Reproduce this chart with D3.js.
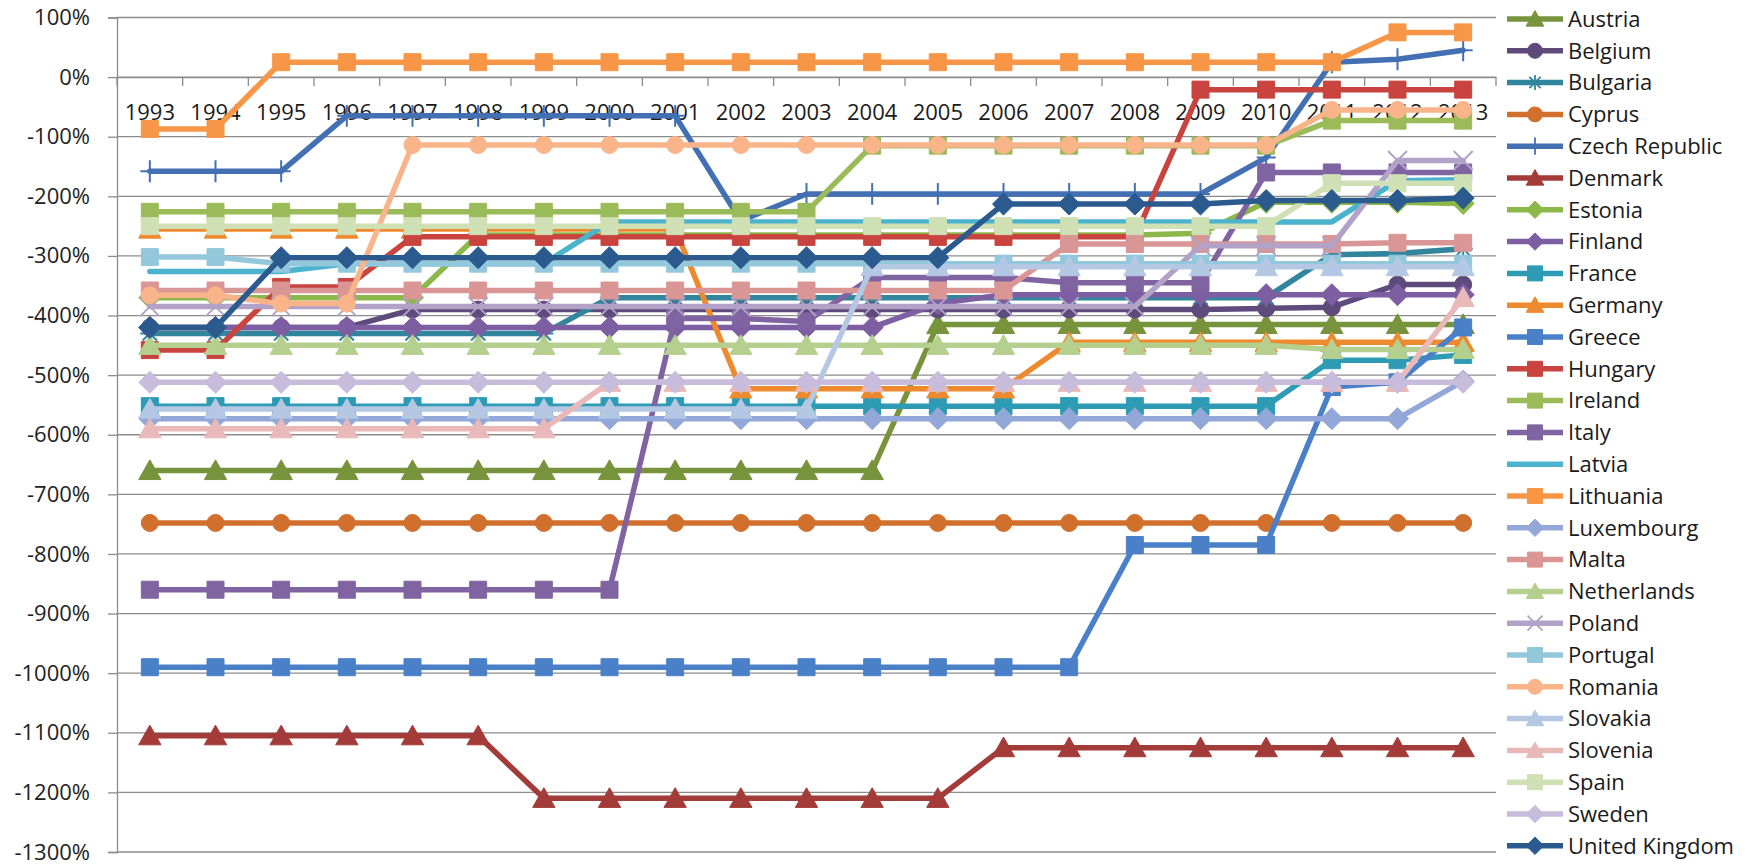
<!DOCTYPE html>
<html><head><meta charset="utf-8">
<script src="https://cdn.jsdelivr.net/npm/d3@7"></script>
<style>body{margin:0;background:#fff;} svg{display:block;font-family:"Open Sans",sans-serif;}</style>
</head><body><svg id="c" width="1753" height="867"></svg>
<script>
const years = [1993,1994,1995,1996,1997,1998,1999,2000,2001,2002,2003,2004,2005,2006,2007,2008,2009,2010,2011,2012,2013];
const countries = ["Austria","Belgium","Bulgaria","Cyprus","Czech Republic","Denmark","Estonia","Finland","France","Germany","Greece","Hungary","Ireland","Italy","Latvia","Lithuania","Luxembourg","Malta","Netherlands","Poland","Portugal","Romania","Slovakia","Slovenia","Spain","Sweden","United Kingdom"];
const yTicks = [100,0,-100,-200,-300,-400,-500,-600,-700,-800,-900,-1000,-1100,-1200,-1300];

const austria    = [-660,-660,-660,-660,-660,-660,-660,-660,-660,-660,-660,-660,-415,-415,-415,-415,-415,-415,-415,-415,-415];
const belgium    = [-420,-420,-420,-420,-390,-390,-390,-390,-390,-390,-390,-390,-390,-390,-390,-390,-390,-388,-386,-348,-348];
const bulgaria   = [-430,-430,-430,-430,-430,-430,-430,-370,-370,-370,-370,-370,-370,-370,-370,-370,-370,-370,-298,-296,-288];
const cyprus     = [-748,-748,-748,-748,-748,-748,-748,-748,-748,-748,-748,-748,-748,-748,-748,-748,-748,-748,-748,-748,-748];
const czech      = [-158,-158,-158,-65,-65,-65,-65,-65,-65,-241,-196,-196,-196,-196,-196,-196,-196,-135,25,30,45];
const denmark    = [-1105,-1105,-1105,-1105,-1105,-1105,-1210,-1210,-1210,-1210,-1210,-1210,-1210,-1125,-1125,-1125,-1125,-1125,-1125,-1125,-1125];
const estonia    = [-370,-370,-370,-370,-370,-265,-265,-265,-265,-265,-265,-265,-265,-265,-265,-265,-262,-210,-210,-210,-212];
const finland    = [-420,-420,-420,-420,-420,-420,-420,-420,-420,-420,-420,-420,-380,-365,-365,-365,-365,-365,-365,-365,-365];
const france     = [-552,-552,-552,-552,-552,-552,-552,-552,-552,-552,-552,-552,-552,-552,-552,-552,-552,-552,-475,-475,-466];
const germany    = [-255,-255,-255,-255,-255,-255,-255,-255,-255,-523,-523,-523,-523,-523,-445,-445,-445,-445,-445,-445,-445];
const greece     = [-990,-990,-990,-990,-990,-990,-990,-990,-990,-990,-990,-990,-990,-990,-990,-785,-785,-785,-520,-512,-420];
const hungary    = [-458,-458,-352,-352,-268,-268,-268,-268,-268,-268,-268,-268,-268,-268,-268,-268,-21,-21,-21,-21,-21];
const ireland    = [-226,-226,-226,-226,-226,-226,-226,-226,-226,-226,-226,-115,-115,-115,-115,-115,-115,-115,-73,-73,-73];
const italy      = [-860,-860,-860,-860,-860,-860,-860,-860,-405,-405,-410,-336,-336,-336,-345,-345,-345,-160,-160,-160,-160];
const latvia     = [-326,-326,-326,-313,-313,-313,-313,-243,-243,-243,-243,-243,-243,-243,-243,-243,-243,-243,-243,-174,-172];
const lithuania  = [-87,-87,25,25,25,25,25,25,25,25,25,25,25,25,25,25,25,25,25,75,75];
const luxembourg = [-573,-573,-573,-573,-573,-573,-573,-573,-573,-573,-573,-573,-573,-573,-573,-573,-573,-573,-573,-573,-510];
const malta      = [-358,-358,-358,-358,-358,-358,-358,-358,-358,-358,-358,-358,-358,-358,-280,-280,-280,-280,-280,-278,-278];
const netherlands= [-450,-450,-450,-450,-450,-450,-450,-450,-450,-450,-450,-450,-450,-450,-450,-450,-450,-450,-457,-457,-457];
const poland     = [-385,-385,-385,-385,-385,-385,-385,-385,-385,-385,-385,-385,-385,-385,-385,-385,-283,-283,-283,-140,-140];
const portugal   = [-302,-302,-313,-313,-313,-313,-313,-313,-313,-313,-313,-313,-313,-313,-313,-313,-313,-313,-313,-313,-313];
const romania    = [-366,-366,-380,-380,-114,-114,-114,-114,-114,-114,-114,-114,-114,-114,-114,-114,-114,-114,-55,-55,-55];
const slovakia   = [-557,-557,-557,-557,-557,-557,-557,-557,-557,-557,-557,-318,-318,-318,-318,-318,-318,-318,-318,-318,-318];
const slovenia   = [-590,-590,-590,-590,-590,-590,-590,-512,-512,-512,-512,-512,-512,-512,-512,-512,-512,-512,-512,-512,-370];
const spain      = [-250,-250,-250,-250,-250,-250,-250,-250,-250,-250,-250,-250,-250,-250,-250,-250,-250,-250,-178,-178,-178];
const sweden     = [-512,-512,-512,-512,-512,-512,-512,-512,-512,-512,-512,-512,-512,-512,-512,-512,-512,-512,-512,-512,-512];
const uk         = [-420,-420,-303,-303,-303,-303,-303,-303,-303,-303,-303,-303,-303,-213,-213,-213,-213,-207,-207,-207,-203];

const seriesValues = [austria,belgium,bulgaria,cyprus,czech,denmark,estonia,finland,france,germany,greece,hungary,ireland,italy,latvia,lithuania,luxembourg,malta,netherlands,poland,portugal,romania,slovakia,slovenia,spain,sweden,uk];

const colors = ["#77933C","#5F4A7C","#31859C","#D1702C","#4370B3","#A33C39","#8CB84A","#7D5EA3","#2E9BB5","#EE8A2E","#4A80C8","#C9433F","#9BBB59","#8064A2","#4BB3CB","#F79646","#93A8D8","#D99694","#B5D08E","#B3A2C7","#93C8DC","#FAB48A","#B4C8E4","#E8B9B8","#CFE0B5","#C7BCDC","#2A5A8E"];
const markers = ["triangle","circle","star","circle","plus","triangle","diamond","diamond","square","triangle","square","square","square","square","none","square","diamond","square","triangle","x","square","circle","triangle","triangle","square","diamond","diamond"];

const svg = d3.select("#c");
const x = d3.scaleBand().domain(years).range([117, 1496]).paddingInner(0).paddingOuter(0);
const y = d3.scaleLinear().domain([-1300, 100]).range([852, 17.5]);
const cx = d => x(d) + x.bandwidth() / 2;
const gridColor = "#8c8c8c";
const plotRight = x(years[years.length - 1]) + x.bandwidth();

// gridlines
svg.append("g").selectAll("line").data(yTicks).join("line")
  .attr("x1", 117).attr("x2", plotRight)
  .attr("y1", d => y(d)).attr("y2", d => y(d))
  .attr("stroke", gridColor).attr("stroke-width", 1.3);

// y axis
const yAxis = svg.append("g").attr("transform", "translate(117,0)")
  .call(d3.axisLeft(y).tickValues(yTicks).tickSize(9).tickPadding(18).tickFormat(d => d + "%"));
yAxis.selectAll("path.domain").attr("stroke", gridColor).attr("stroke-width", 1.3);
yAxis.selectAll(".tick line").attr("stroke", gridColor).attr("stroke-width", 1.3);
yAxis.selectAll("text").attr("font-size", 22).attr("fill", "#222").attr("font-family", "Open Sans, sans-serif");

// x axis at 0%
const xAxis = svg.append("g").attr("transform", `translate(0,${y(0)})`)
  .call(d3.axisBottom(x).tickSize(0).tickPadding(27));
xAxis.select("path.domain").attr("stroke", gridColor).attr("stroke-width", 1.3);
xAxis.selectAll("text").attr("font-size", 22).attr("fill", "#1a1a1a").attr("font-family", "Open Sans, sans-serif");
const bounds = years.map(d => x(d)).concat([plotRight]);
svg.append("g").selectAll("line").data(bounds).join("line")
  .attr("x1", d => d).attr("x2", d => d)
  .attr("y1", y(0)).attr("y2", y(0) + 9)
  .attr("stroke", gridColor).attr("stroke-width", 1.3);

function markerPath(type, s) {
  const h = s / 2;
  switch (type) {
    case "square": return `M${-h},${-h}H${h}V${h}H${-h}Z`;
    case "diamond": { const r = s * 0.58; return `M0,${-r}L${r},0L0,${r}L${-r},0Z`; }
    case "triangle": { const r = s * 0.56; return `M0,${-r}L${r * 1.05},${r * 0.85}L${-r * 1.05},${r * 0.85}Z`; }
    case "circle": return `M${h},0A${h},${h} 0 1 1 ${-h},0A${h},${h} 0 1 1 ${h},0Z`;
    case "plus": return `M${-h},0H${h}M0,${-h * 1.15}V${h * 1.15}`;
    case "x": return `M${-h},${-h}L${h},${h}M${-h},${h}L${h},${-h}`;
    case "star": return `M${-h},0H${h}M0,${-h}V${h}M${-h*0.75},${-h*0.75}L${h*0.75},${h*0.75}M${-h*0.75},${h*0.75}L${h*0.75},${-h*0.75}`;
    default: return "";
  }
}
const stroked = t => t === "plus" || t === "x" || t === "star";

const line = d3.line().x(d => cx(d.year)).y(d => y(d.value));

seriesValues.forEach((vals, i) => {
  const pts = years.map((yr, j) => ({ year: yr, value: vals[j] }));
  const g = svg.append("g");
  g.append("path").datum(pts).attr("d", line)
    .attr("fill", "none").attr("stroke", colors[i]).attr("stroke-width", 5.5)
    .attr("stroke-linejoin", "round").attr("stroke-linecap", "round");
  const m = markers[i];
  if (m !== "none") {
    const size = m === "square" ? 17 : m === "circle" ? 17 : 19;
    g.selectAll("path.mk").data(pts).join("path").attr("class", "mk")
      .attr("transform", d => `translate(${cx(d.year)},${y(d.value)})`)
      .attr("d", markerPath(m, size))
      .attr("fill", stroked(m) ? "none" : colors[i])
      .attr("stroke", colors[i]).attr("stroke-width", stroked(m) ? 2 : 1);
  }
});

// legend
const lg = svg.append("g").selectAll("g").data(countries).join("g")
  .attr("transform", (d, i) => `translate(0,${19 + i * 31.8})`);
lg.append("line").attr("x1", 1507).attr("x2", 1563).attr("y1", 0).attr("y2", 0)
  .attr("stroke", (d, i) => colors[i]).attr("stroke-width", 5.5);
lg.append("path").attr("transform", "translate(1535,0)")
  .attr("d", (d, i) => markerPath(markers[i], 15))
  .attr("fill", (d, i) => stroked(markers[i]) ? "none" : colors[i])
  .attr("stroke", (d, i) => colors[i]).attr("stroke-width", (d, i) => stroked(markers[i]) ? 1.8 : 1);
lg.append("text").attr("x", 1568).attr("dy", "0.35em").attr("font-size", 22).attr("fill", "#1a1a1a")
  .text(d => d);
</script></body></html>
